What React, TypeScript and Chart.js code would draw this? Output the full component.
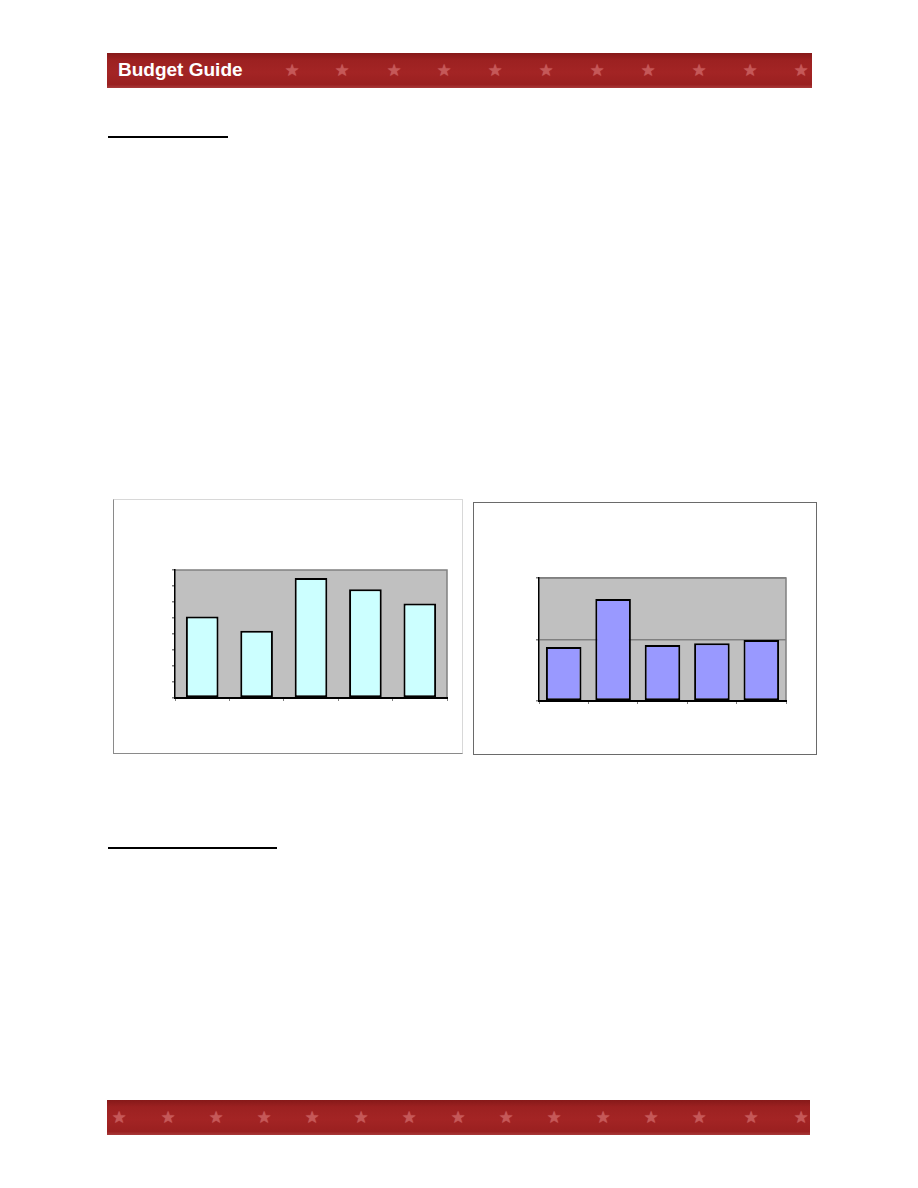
import React, { useEffect, useRef } from "react";
import { Chart, registerables } from "chart.js";

Chart.register(...registerables);

// ---- data ----
const leftCategories = ["A", "B", "C", "D", "E"];
const leftValues = [51, 42, 75, 68, 59];
const leftMax = 80;
const leftStep = 10;

const rightCategories = ["A", "B", "C", "D", "E"];
const rightValues = [88, 166, 91, 94, 99];
const rightMax = 200;
const rightStep = 100;

const headerStarsX = [292, 342, 394, 444, 495, 546, 597, 648, 699, 750, 801];
const footerStarsX = [119, 168, 216, 264, 312, 361, 409, 458, 506, 554, 603, 651, 699, 751, 801];

const plotBgPlugin = (bg: string, borderColor: string) => ({
  id: "plotBg",
  beforeDraw(chart: any) {
    const { ctx, chartArea } = chart;
    ctx.save();
    ctx.fillStyle = bg;
    ctx.fillRect(chartArea.left, chartArea.top, chartArea.right - chartArea.left, chartArea.bottom - chartArea.top);
    ctx.strokeStyle = borderColor;
    ctx.lineWidth = 1.5;
    ctx.beginPath();
    ctx.moveTo(chartArea.left, chartArea.top);
    ctx.lineTo(chartArea.right, chartArea.top);
    ctx.lineTo(chartArea.right, chartArea.bottom);
    ctx.stroke();
    ctx.restore();
  },
});

type BarProps = {
  left: number;
  top: number;
  width: number;
  height: number;
  categories: string[];
  values: number[];
  max: number;
  step: number;
  fill: string;
  barPct: number;
  padding: { left: number; right: number; top: number; bottom: number };
  gridOnArea: boolean;
};

function BarChart(p: BarProps) {
  const ref = useRef<HTMLCanvasElement | null>(null);
  useEffect(() => {
    if (!ref.current) return;
    const chart = new Chart(ref.current, {
      type: "bar",
      data: {
        labels: p.categories,
        datasets: [
          {
            data: p.values,
            backgroundColor: p.fill,
            borderColor: "#000000",
            borderWidth: 2,
            borderSkipped: false,
            categoryPercentage: 1,
            barPercentage: p.barPct,
          },
        ],
      },
      options: {
        animation: false,
        responsive: false,
        maintainAspectRatio: false,
        devicePixelRatio: 1,
        layout: { padding: p.padding },
        plugins: { legend: { display: false }, tooltip: { enabled: false } },
        scales: {
          x: {
            offset: true,
            grid: {
              offset: true,
              drawOnChartArea: false,
              drawTicks: true,
              tickLength: 3,
              color: "#808080",
              lineWidth: 1,
            },
            border: { display: true, color: "#000000", width: 2 },
            ticks: { display: false },
            afterFit(scale: any) {
              scale.height = 8;
            },
          },
          y: {
            min: 0,
            max: p.max,
            ticks: { display: false, stepSize: p.step },
            grid: {
              drawOnChartArea: p.gridOnArea,
              drawTicks: true,
              tickLength: 3,
              color: "#808080",
              lineWidth: 1.5,
            },
            border: { display: true, color: "#000000", width: 1.5 },
            afterFit(scale: any) {
              scale.width = 8;
            },
          },
        },
      },
      plugins: [plotBgPlugin("#c0c0c0", "#808080")],
    });
    return () => chart.destroy();
  }, []);
  return (
    <canvas
      ref={ref}
      width={p.width}
      height={p.height}
      style={{ position: "absolute", left: p.left, top: p.top, width: p.width, height: p.height }}
    />
  );
}

function Banner({ top, width, stars, title }: { top: number; width: number; stars: number[]; title?: string }) {
  return (
    <div
      style={{
        position: "absolute",
        left: 107,
        top,
        width,
        height: 35,
        background:
          "linear-gradient(to bottom, #861919 0%, #9c2121 20%, #a32424 55%, #9a2020 90%, #a83a3a 100%)",
        overflow: "hidden",
      }}
    >
      {title && (
        <div
          style={{
            position: "absolute",
            left: 11,
            top: 6,
            fontFamily: "'Liberation Sans', Arial, sans-serif",
            fontWeight: "bold",
            fontSize: 19,
            color: "#ffffff",
            lineHeight: "22px",
            whiteSpace: "nowrap",
          }}
        >
          {title}
        </div>
      )}
      {stars.map((x, i) => (
        <div
          key={i}
          style={{
            position: "absolute",
            left: x - 107 - 9,
            top: 7,
            width: 18,
            textAlign: "center",
            fontFamily: "'DejaVu Sans', sans-serif",
            fontSize: 17,
            lineHeight: "20px",
            color: "#c55858",
            textShadow: "0 0 1px #c55858",
          }}
        >
          ★
        </div>
      ))}
    </div>
  );
}

export default function App() {
  return (
    <div style={{ position: "absolute", left: 0, top: 0, width: 918, height: 1188, background: "#fff" }}>
      <Banner top={53} width={705} stars={headerStarsX} title="Budget Guide" />

      <div style={{ position: "absolute", left: 108, top: 136, width: 120, height: 2, background: "#000" }} />
      <div style={{ position: "absolute", left: 108, top: 847, width: 169, height: 2, background: "#000" }} />

      {/* left chart box */}
      <div
        style={{
          position: "absolute",
          left: 113,
          top: 499,
          width: 348,
          height: 253,
          borderTop: "1px solid #d8d8d8",
          borderRight: "1px solid #d8d8d8",
          borderLeft: "1px solid #8a8a8a",
          borderBottom: "1px solid #8a8a8a",
        }}
      />
      <BarChart
        left={114}
        top={500}
        width={348}
        height={253}
        categories={leftCategories}
        values={leftValues}
        max={leftMax}
        step={leftStep}
        fill="#CCFFFF"
        barPct={0.6}
        padding={{ left: 53, top: 70, right: 15, bottom: 47 }}
        gridOnArea={false}
      />

      {/* right chart box */}
      <div
        style={{
          position: "absolute",
          left: 473,
          top: 502,
          width: 342,
          height: 251,
          border: "1px solid #6a6a6a",
        }}
      />
      <BarChart
        left={474}
        top={503}
        width={342}
        height={251}
        categories={rightCategories}
        values={rightValues}
        max={rightMax}
        step={rightStep}
        fill="#9999FF"
        barPct={0.72}
        padding={{ left: 57, top: 75, right: 30, bottom: 45 }}
        gridOnArea={true}
      />

      <Banner top={1100} width={703} stars={footerStarsX} />
    </div>
  );
}
